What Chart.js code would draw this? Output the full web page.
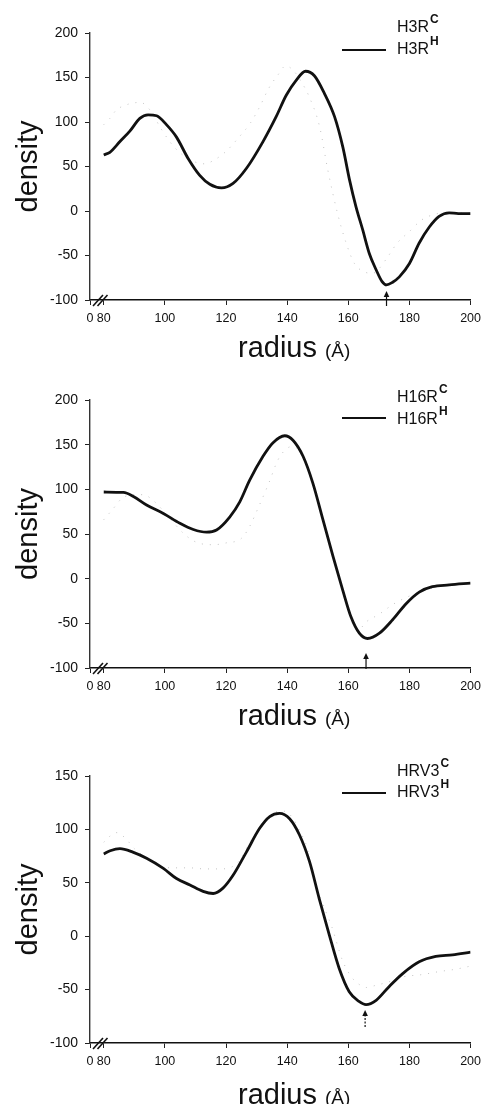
<!DOCTYPE html>
<html lang="en">
<head>
<meta charset="UTF-8" />
<title>Radial density profiles</title>
<style>
  body { margin: 0; background: #fff; font-family: 'Liberation Sans', Arial, sans-serif; color: #111; }
  .page { position: relative; width: 487px; height: 1104px; overflow: hidden; }
  canvas { position: absolute; left: 0; }
  .xtitle { position: absolute; left: 238px; font-size: 29px; line-height: 29px; white-space: nowrap; }
  .xtitle span { font-size: 19px; line-height: 1; }
  .leg { position: absolute; left: 397px; font-size: 16px; line-height: 16px; white-space: nowrap; }
  .leg b { font-size: 12px; position: relative; top: -9px; margin-left: 1px; }
  .legline { position: absolute; left: 342px; width: 44px; height: 0; border-top: 2.6px solid #111; }
</style>
</head>
<body>
<div class="page">
  <canvas id="c1" width="487" height="370" style="top:0"></canvas>
  <canvas id="c2" width="487" height="365" style="top:370px"></canvas>
  <canvas id="c3" width="487" height="369" style="top:735px"></canvas>

  <div class="leg" style="top:19px">H3R<b>C</b></div>
  <div class="leg" style="top:41px">H3R<b>H</b></div>
  <div class="legline" style="top:49px"></div>
  <div class="xtitle" style="top:333px">radius <span>(Å)</span></div>

  <div class="leg" style="top:389px">H16R<b>C</b></div>
  <div class="leg" style="top:411px">H16R<b>H</b></div>
  <div class="legline" style="top:417px"></div>
  <div class="xtitle" style="top:701px">radius <span>(Å)</span></div>

  <div class="leg" style="top:763px">HRV3<b>C</b></div>
  <div class="leg" style="top:784px">HRV3<b>H</b></div>
  <div class="legline" style="top:792px"></div>
  <div class="xtitle" style="top:1080px">radius <span>(Å)</span></div>
</div>

<script src="https://cdn.jsdelivr.net/npm/chart.js"></script>
<script>
// broken x axis: the origin is labelled 0, then 80 ... 200
const xAxisStart = 75.5;
const xTickValues = [80, 100, 120, 140, 160, 180, 200];

// H3R
const h3rRadiusC  = [80, 82, 84, 88, 92, 95, 99, 103, 108, 113, 116, 120, 124, 128, 131, 134, 137, 139.5, 142, 145, 147, 150.6, 153.3, 156.5, 159.3, 162, 165, 168, 170, 173, 176, 180, 184, 188, 192, 200];
const h3rDensityC = [97, 104, 113, 120, 122, 114, 91, 72, 58, 53, 57, 67, 82, 99, 117, 138, 153, 163, 158, 143, 130, 95, 46, -3, -36, -59, -68, -70, -65, -51, -36, -23, -10, -4, -2, -2];
const h3rRadiusH  = [80, 82, 85.3, 88.6, 91.8, 94.5, 97.3, 100.5, 103.8, 107.6, 111.4, 114.7, 118.5, 122.3, 126.7, 132.1, 136.4, 139.7, 143, 146, 148.9, 152.2, 155.5, 158.2, 160.4, 162.5, 164.7, 166.9, 169.1, 171, 172.5, 174.5, 176.7, 180, 183.2, 186.5, 189.7, 193, 196, 200];
const h3rDensityH = [63, 66, 78, 90, 104, 108, 107, 97, 83, 59, 40, 30, 26, 31, 48, 78, 106, 130, 147, 157, 152, 132, 106, 72, 35, 5, -21, -48, -66, -79, -83, -80, -74, -59, -36, -18, -6, -2, -3, -3];

// H16R
const h16rRadiusC  = [80, 83, 86, 90, 93, 96, 100, 103, 106, 109, 112, 116, 120, 125, 127.5, 131, 134, 137, 140, 142, 145, 148, 151.7, 155, 158, 161, 163, 166, 170, 175, 181.7, 186, 190, 200];
const h16rDensityC = [66, 78, 90, 94, 94, 88, 74, 62, 51, 43, 39, 38, 40, 45, 57, 83, 107, 133, 146, 148, 137, 110, 68, 27, -10, -45, -58, -48, -40, -28, -17, -12, -8, -5];
const h16rRadiusH  = [80, 86.4, 89.7, 94, 99.5, 104.9, 109.3, 113.6, 116.9, 121.2, 124.5, 127.7, 132.1, 135.3, 139.2, 141.9, 145.2, 148.4, 151.7, 155, 158.2, 160.9, 163.6, 166.3, 170.2, 174.5, 178.9, 183.2, 187.5, 193, 200];
const h16rDensityH = [97, 96.5, 92, 82.5, 73, 62, 55, 52, 54.5, 69, 86, 110, 137, 152, 160, 155, 137, 107, 66, 25, -13, -43, -61, -67, -61, -46, -28, -15, -9, -7, -5];

// HRV3
const hrv3RadiusC  = [80, 84, 87, 90, 95, 99, 103, 108, 113, 118, 122, 125, 127, 130, 133, 136, 139, 142, 144, 146.6, 148.2, 151, 154.7, 158, 161, 164, 166, 169, 173, 178, 184, 190, 195, 200];
const hrv3DensityC = [88, 97, 92, 82, 72, 65, 64, 64, 63, 63, 65, 73, 84, 98, 110, 116, 117, 110, 99, 82, 58, 35, 8, -22, -38, -46, -48, -46, -43, -38, -36, -33, -31, -28];
const hrv3RadiusH  = [80, 82.1, 85.3, 89.7, 94, 99.5, 103.8, 108.2, 112.5, 115.8, 119, 122.3, 126.7, 131, 134.3, 137.5, 140.8, 144, 147.3, 150.5, 153.8, 157, 160.3, 163.5, 165.8, 169.1, 173.4, 177.8, 183.2, 188.6, 194.1, 200];
const hrv3DensityH = [77, 80, 82, 78.5, 73, 63.5, 54, 48, 42, 40, 45, 57, 79, 101, 112, 115, 110, 95, 70, 35, 1, -30, -52, -61, -64, -60, -47, -35, -24, -19, -17.5, -15];

// radius marked by the small arrow in each panel
const arrowRadius = [172.5, 165.8, 165.5];

const FONT = "'Liberation Sans', Arial, sans-serif";

function pts(xs, ys) {
  return xs.map((x, i) => ({ x: x, y: ys[i] }));
}

// axis break marks and the arrow
const annotate = {
  id: 'annotate',
  afterDraw(chart, args, o) {
    const ctx = chart.ctx;
    const { left, bottom } = chart.chartArea;
    ctx.save();
    ctx.strokeStyle = '#111';
    ctx.fillStyle = '#111';
    ctx.lineWidth = 1.6;
    [3, 7.5].forEach(dx => {
      ctx.beginPath();
      ctx.moveTo(left + dx, bottom + 6);
      ctx.lineTo(left + dx + 10, bottom - 5);
      ctx.stroke();
    });
    const ax = chart.scales.x.getPixelForValue(o.at);
    const y0 = bottom + o.from, y1 = bottom + o.to;
    ctx.lineWidth = 1.2;
    if (o.dash) ctx.setLineDash([2, 1.5]);
    ctx.beginPath();
    ctx.moveTo(ax, y0);
    ctx.lineTo(ax, y1 + 4);
    ctx.stroke();
    ctx.setLineDash([]);
    ctx.beginPath();
    ctx.moveTo(ax, y1);
    ctx.lineTo(ax - 2.8, y1 + 6);
    ctx.lineTo(ax + 2.8, y1 + 6);
    ctx.closePath();
    ctx.fill();
    ctx.restore();
  }
};

function makePanel(id, c, h, yMin, yMax, top, xHeight, arrow) {
  new Chart(document.getElementById(id), {
    type: 'line',
    data: {
      datasets: [
        {
          data: pts(h[0], h[1]),
          borderColor: '#111',
          borderWidth: 2.8,
          pointRadius: 0,
          cubicInterpolationMode: 'monotone',
          order: 0
        },
        {
          data: pts(c[0], c[1]),
          borderColor: '#c2c2c2',
          borderWidth: 1,
          borderDash: [1, 7],
          pointRadius: 0,
          cubicInterpolationMode: 'monotone',
          order: 1
        }
      ]
    },
    options: {
      responsive: false,
      animation: false,
      layout: { padding: { top: top, right: 13, left: 0, bottom: 0 } },
      plugins: {
        legend: { display: false },
        tooltip: { enabled: false },
        annotate: arrow
      },
      scales: {
        x: {
          type: 'linear',
          min: xAxisStart,
          max: 200,
          afterFit: s => { s.height = xHeight; },
          afterBuildTicks: s => {
            s.ticks = [xAxisStart].concat(xTickValues).map(v => ({ value: v }));
          },
          grid: { drawOnChartArea: false, drawTicks: true, tickLength: 5, color: '#222', lineWidth: 1 },
          border: { display: true, color: '#111', width: 1.6 },
          ticks: {
            autoSkip: false,
            maxRotation: 0,
            padding: 6,
            color: '#111',
            font: { family: FONT, size: 12.5 },
            callback: v => (v === xAxisStart ? '0' : String(v))
          }
        },
        y: {
          min: yMin,
          max: yMax,
          afterFit: s => { s.width = 90; },
          grid: { drawOnChartArea: false, drawTicks: true, tickLength: 5, color: '#222', lineWidth: 1 },
          border: { display: true, color: '#333', width: 1.4 },
          ticks: {
            stepSize: 50,
            padding: 7,
            color: '#111',
            font: { family: FONT, size: 14 }
          },
          title: {
            display: true,
            text: 'density',
            color: '#111',
            font: { family: FONT, size: 29, lineHeight: 1 },
            padding: { top: 14, bottom: 0 }
          }
        }
      }
    },
    plugins: [annotate]
  });
}

makePanel('c1', [h3rRadiusC, h3rDensityC], [h3rRadiusH, h3rDensityH], -100, 200, 33, 70,
  { at: arrowRadius[0], from: 6, to: -9, dash: false });
makePanel('c2', [h16rRadiusC, h16rDensityC], [h16rRadiusH, h16rDensityH], -100, 200, 30, 67,
  { at: arrowRadius[1], from: 1, to: -15, dash: false });
makePanel('c3', [hrv3RadiusC, hrv3DensityC], [hrv3RadiusH, hrv3DensityH], -100, 150, 41, 61,
  { at: arrowRadius[2], from: -16, to: -33, dash: true });
</script>
</body>
</html>
